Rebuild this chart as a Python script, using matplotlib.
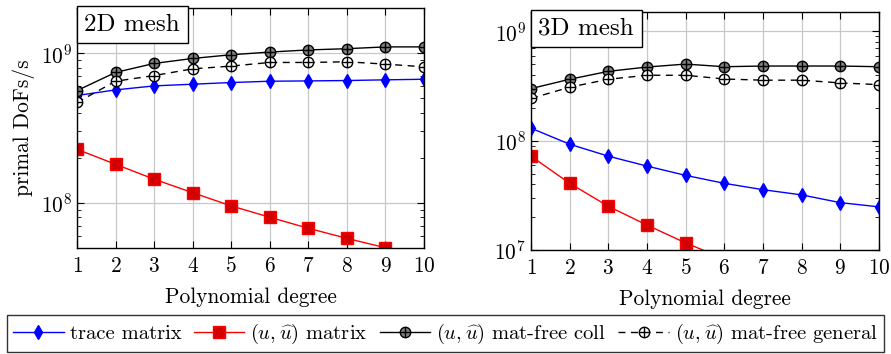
import numpy as np
import matplotlib
matplotlib.use("Agg")
import matplotlib.pyplot as plt
from matplotlib.legend_handler import HandlerTuple

plt.rcParams['font.family'] = 'serif'
plt.rcParams['font.serif'] = ['cmr10', 'DejaVu Serif']
plt.rcParams['mathtext.fontset'] = 'cm'
plt.rcParams['axes.formatter.use_mathtext'] = True

degrees = np.arange(1, 11)

# 2D mesh
trace_2d = [5.21e8, 5.68e8, 6.04e8, 6.20e8, 6.36e8, 6.49e8, 6.52e8, 6.56e8, 6.63e8, 6.69e8]
matrix_2d = [2.28e8, 1.81e8, 1.44e8, 1.17e8, 9.55e7, 8.02e7, 6.77e7, 5.80e7, 5.02e7]
coll_2d = [5.62e8, 7.43e8, 8.53e8, 9.21e8, 9.75e8, 1.016e9, 1.05e9, 1.07e9, 1.10e9, 1.10e9]
general_2d = [4.68e8, 6.49e8, 7.08e8, 7.85e8, 8.19e8, 8.66e8, 8.66e8, 8.75e8, 8.44e8, 8.10e8]

# 3D mesh
trace_3d = [1.30e8, 9.27e7, 7.21e7, 5.85e7, 4.81e7, 4.07e7, 3.56e7, 3.19e7, 2.71e7, 2.48e7]
matrix_3d = [7.21e7, 4.07e7, 2.51e7, 1.69e7, 1.16e7, 8.3e6]
coll_3d = [2.99e8, 3.64e8, 4.30e8, 4.71e8, 5.01e8, 4.74e8, 4.81e8, 4.81e8, 4.81e8, 4.74e8]
general_3d = [2.43e8, 3.08e8, 3.64e8, 3.96e8, 3.96e8, 3.66e8, 3.57e8, 3.57e8, 3.37e8, 3.25e8]

labels = ['trace matrix', r'$(u,\widehat{u})$ matrix',
          r'$(u,\widehat{u})$ mat-free coll', r'$(u,\widehat{u})$ mat-free general']

FS = 15.4
TITLE_FS = 18
W, H = 891, 354
fig = plt.figure(figsize=(W / 100, H / 100), dpi=100)


def make_axes(l, r, t, b):
    return fig.add_axes([l / W, 1 - b / H, (r - l) / W, (b - t) / H])


def draw(ax, trace, matrix, coll, general, ylim, title):
    ax.set_yscale('log')
    ax.grid(True, which='major', color='#c8c8c8', lw=0.9)
    ax.set_axisbelow(True)
    h1, = ax.plot(degrees[:len(trace)], trace, color='blue', marker='d', ms=7, mec='blue', lw=1)
    h2, = ax.plot(degrees[:len(matrix)], matrix, color='red', marker='s', ms=8, mfc='#d40000', mec='red', lw=1)
    h3a, = ax.plot(degrees, coll, color='black', marker='o', ms=7.5, mfc='#808080', mec='black', lw=1)
    h3b, = ax.plot(degrees, coll, ls='none', marker='+', ms=7.5, mec='black', mew=1)
    h4a, = ax.plot(degrees, general, color='black', ls=(0, (5, 4)), marker='o', ms=7.5, mfc='white', mec='black', lw=1)
    h4b, = ax.plot(degrees, general, ls='none', marker='+', ms=7.5, mec='black', mew=1)
    ax.set_xlim(1, 10)
    ax.set_ylim(*ylim)
    ax.set_xticks(degrees)
    ax.tick_params(which='both', direction='in', top=True, right=True, labelsize=FS)
    ax.tick_params(which='major', length=5)
    ax.tick_params(which='minor', length=3)
    ax.tick_params(axis='x', pad=6)
    ax.set_xlabel('Polynomial degree', fontsize=FS, labelpad=8)
    for s in ax.spines.values():
        s.set_linewidth(1)
    pad = 0.3 * TITLE_FS
    ax.annotate(title, xy=(0, 1), xycoords='axes fraction', xytext=(pad, -pad * 0.75),
                textcoords='offset points', fontsize=TITLE_FS, va='top', ha='left',
                bbox=dict(boxstyle='square,pad=0.3', fc='white', ec='black', lw=1))
    return [h1, h2, (h3a, h3b), (h4a, h4b)]


ax1 = make_axes(77, 424, 8, 248)
handles = draw(ax1, trace_2d, matrix_2d, coll_2d, general_2d, (5e7, 2e9), '2D mesh')
ax1.set_ylabel('primal DoFs/s', fontsize=FS)

ax2 = make_axes(531, 879, 12, 250)
draw(ax2, trace_3d, matrix_3d, coll_3d, general_3d, (1e7, 1.5e9), '3D mesh')

leg = fig.legend(handles, labels, loc='lower center', bbox_to_anchor=(0.5, 0.0), ncol=4,
                 fontsize=14.8, frameon=True, fancybox=False, edgecolor='black',
                 handlelength=2.45, handletextpad=0.3, columnspacing=0.6, borderpad=0.3,
                 borderaxespad=0.1,
                 handler_map={tuple: HandlerTuple(ndivide=1, pad=0)})
leg.get_frame().set_linewidth(1)

fig.savefig('out.png', dpi=100)
